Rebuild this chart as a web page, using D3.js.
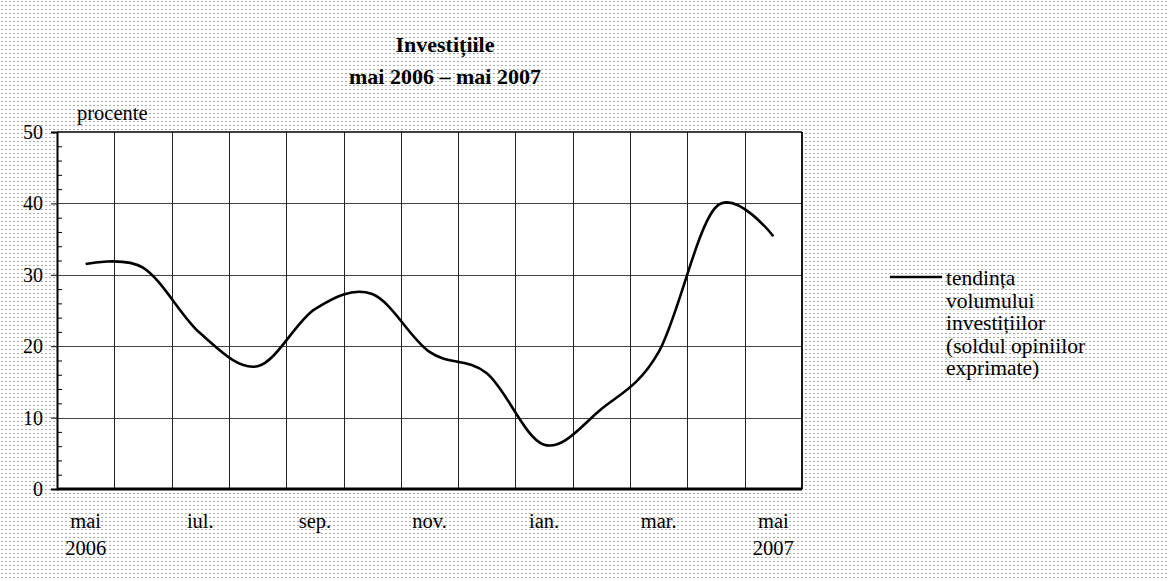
<!DOCTYPE html>
<html>
<head>
<meta charset="utf-8">
<script src="https://cdn.jsdelivr.net/npm/d3@7"></script>
<style>
  body { margin: 0; background: #fff; }
  svg { display: block; font-family: "Liberation Serif", "Times New Roman", serif; }
</style>
</head>
<body>
<script>
// Data
var months = ["mai 2006", "iun", "iul", "aug", "sep", "oct", "nov", "dec", "ian", "feb", "mar", "apr", "mai 2007"];
var values = [31.5, 31.0, 21.8, 17.2, 25.2, 27.3, 19.2, 16.2, 6.2, 11.2, 19.2, 39.5, 35.4];
var xLabels = {
  "mai 2006": ["mai", "2006"],
  "iul": ["iul."],
  "sep": ["sep."],
  "nov": ["nov."],
  "ian": ["ian."],
  "mar": ["mar."],
  "mai 2007": ["mai", "2007"]
};
var yTicks = [0, 10, 20, 30, 40, 50];
var yMinor = [2, 4, 6, 8, 12, 14, 16, 18, 22, 24, 26, 28, 32, 34, 36, 38, 42, 44, 46, 48];
var titleLines = ["Investițiile", "mai 2006 – mai 2007"];
var legendLines = ["tendința", "volumului", "investițiilor", "(soldul opiniilor", "exprimate)"];

var W = 1168, H = 581;
var margin = {top: 132, left: 57},
    width = 745,
    height = 357;

var svg = d3.select("body").append("svg")
    .attr("width", W)
    .attr("height", H);

// dotted background
var defs = svg.append("defs");
var pat = defs.append("pattern")
    .attr("id", "dots")
    .attr("width", 4)
    .attr("height", 4)
    .attr("patternUnits", "userSpaceOnUse");
pat.append("rect").attr("width", 4).attr("height", 4).attr("fill", "#fff");
pat.append("rect").attr("x", 1).attr("y", 1).attr("width", 2).attr("height", 1).attr("fill", "#a8a8a8");
svg.append("rect").attr("width", W).attr("height", H).attr("fill", "url(#dots)");

var x = d3.scaleBand().domain(months).range([0, width]).padding(0);
var y = d3.scaleLinear().domain([0, 50]).range([height, 0]);

var g = svg.append("g")
    .attr("transform", "translate(" + margin.left + "," + margin.top + ")");

// plot area
g.append("rect")
    .attr("width", width)
    .attr("height", height)
    .attr("fill", "#fff");

// horizontal gridlines
g.selectAll(".hgrid")
    .data(yTicks.filter(function(d) { return d > 0 && d < 50; }))
  .enter().append("line")
    .attr("x1", 0).attr("x2", width)
    .attr("y1", function(d) { return Math.round(y(d)) + 0.5; })
    .attr("y2", function(d) { return Math.round(y(d)) + 0.5; })
    .attr("stroke", "#444")
    .attr("stroke-width", 1);

// vertical gridlines between months
g.selectAll(".vgrid")
    .data(months.slice(1))
  .enter().append("line")
    .attr("x1", function(d) { return Math.round(x(d)) + 0.5; })
    .attr("x2", function(d) { return Math.round(x(d)) + 0.5; })
    .attr("y1", 0).attr("y2", height)
    .attr("stroke", "#222")
    .attr("stroke-width", 1);

// top and right border
g.append("line").attr("x1", 0).attr("x2", width).attr("y1", 0).attr("y2", 0)
    .attr("stroke", "#000").attr("stroke-width", 1.5);
g.append("line").attr("x1", width).attr("x2", width).attr("y1", 0).attr("y2", height)
    .attr("stroke", "#000").attr("stroke-width", 1.8);

// the line
var line = d3.line()
    .x(function(d, i) { return x(months[i]) + x.bandwidth() / 2; })
    .y(function(d) { return y(d); })
    .curve(d3.curveCardinal.tension(0));

g.append("path")
    .datum(values)
    .attr("fill", "none")
    .attr("stroke", "#000")
    .attr("stroke-width", 2.6)
    .attr("d", line);

// y axis
var yAxis = g.append("g")
    .call(d3.axisLeft(y).tickValues(yTicks).tickSize(6).tickPadding(8));
yAxis.select(".domain").attr("stroke-width", 2);
yAxis.selectAll("text")
    .style("font-size", "20px")
    .style("font-family", "Liberation Serif, Times New Roman, serif")
    .attr("fill", "#000");

// minor ticks inside
g.append("g")
    .call(d3.axisRight(y).tickValues(yMinor).tickSize(5).tickFormat(""))
  .select(".domain").remove();

// x axis
g.append("line").attr("x1", 0).attr("x2", width).attr("y1", height).attr("y2", height)
    .attr("stroke", "#000").attr("stroke-width", 2.8);

var xAxis = g.append("g")
    .attr("transform", "translate(0," + height + ")")
    .call(d3.axisBottom(x).tickValues(Object.keys(xLabels)).tickSize(0).tickFormat(""));
xAxis.select(".domain").remove();
xAxis.selectAll(".tick").each(function(d) {
  var t = d3.select(this).append("text")
      .attr("fill", "#000")
      .attr("text-anchor", "middle")
      .style("font-size", "20.5px")
      .style("font-family", "Liberation Serif, Times New Roman, serif");
  xLabels[d].forEach(function(s, i) {
    t.append("tspan").attr("x", 0).attr("y", 39 + i * 27).text(s);
  });
});

// unit label
svg.append("text")
    .attr("x", 77)
    .attr("y", 120)
    .style("font-size", "20.5px")
    .text("procente");

// title
svg.append("g").selectAll("text")
    .data(titleLines)
  .enter().append("text")
    .attr("x", 445)
    .attr("y", function(d, i) { return 52 + i * 32; })
    .attr("text-anchor", "middle")
    .style("font-size", "22px")
    .style("font-weight", "bold")
    .text(function(d) { return d; });

// legend
var leg = svg.append("g").attr("transform", "translate(890,277)");
leg.append("line").attr("x1", 0).attr("x2", 52).attr("y1", 0).attr("y2", 0)
    .attr("stroke", "#000").attr("stroke-width", 2.6);
leg.selectAll("text")
    .data(legendLines)
  .enter().append("text")
    .attr("x", 56)
    .attr("y", function(d, i) { return 8 + i * 22.5; })
    .style("font-size", "21.5px")
    .text(function(d) { return d; });
</script>
</body>
</html>
